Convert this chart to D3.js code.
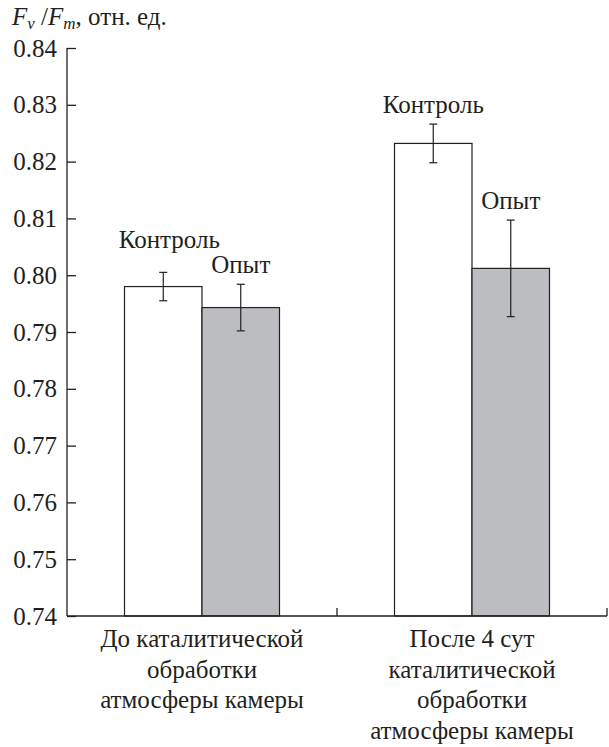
<!DOCTYPE html>
<html>
<head>
<meta charset="utf-8">
<script src="https://cdn.jsdelivr.net/npm/d3@7"></script>
</head>
<body style="margin:0">
<svg id="svg" width="609" height="747"></svg>
<script>
// data
var groups = ["До каталитической\nобработки\nатмосферы камеры",
              "После 4 сут\nкаталитической\nобработки\nатмосферы камеры"];
var series = ["Контроль", "Опыт"];
var controlValues = [0.7980, 0.8232];
var controlErrors = [0.0025, 0.0034];
var testValues = [0.7943, 0.8012];
var testErrors = [0.0041, 0.0085];
var yTicks = [0.74, 0.75, 0.76, 0.77, 0.78, 0.79, 0.80, 0.81, 0.82, 0.83, 0.84];

var svg = d3.select("svg"),
    margin = {top: 48, left: 67, right: 2, bottom: 131},
    width = 609,
    height = 747;

var ink = "#231f20";
var fills = ["#ffffff", "#bcbdc0"];
var fontSize = 25;

// serif text helper
function serifText(sel) {
    return sel.attr("font-family", "Liberation Serif")
            .style("font-family", "'Liberation Serif'")
            .attr("font-size", fontSize)
            .attr("fill", ink);
}

var y = d3.scaleLinear()
        .domain([0.74, 0.84])
        .range([height - margin.bottom, margin.top]);

var x0 = d3.scaleBand()
        .domain(d3.range(groups.length))
        .range([margin.left, width - margin.right])
        .padding(0);

var x1 = d3.scaleBand()
        .domain(d3.range(series.length))
        .range([0, x0.bandwidth()])
        .paddingInner(0)
        .paddingOuter(0.742);

var rows = [];
groups.forEach(function (g, i) {
    rows.push({g: i, s: 0, v: controlValues[i], e: controlErrors[i]});
    rows.push({g: i, s: 1, v: testValues[i], e: testErrors[i]});
});

// bars
svg.append("g").selectAll("rect")
        .data(rows)
        .enter().append("rect")
        .attr("x", function (d) { return x0(d.g) + x1(d.s); })
        .attr("y", function (d) { return y(d.v); })
        .attr("width", x1.bandwidth())
        .attr("height", function (d) { return y(0.74) - y(d.v); })
        .attr("fill", function (d) { return fills[d.s]; })
        .attr("stroke", ink)
        .attr("stroke-width", 1.2);

// error bars
var eb = svg.append("g").attr("stroke", ink).attr("stroke-width", 1.2);
rows.forEach(function (d) {
    var cx = x0(d.g) + x1(d.s) + x1.bandwidth() / 2;
    eb.append("line").attr("x1", cx).attr("x2", cx)
            .attr("y1", y(d.v + d.e)).attr("y2", y(d.v - d.e));
    eb.append("line").attr("x1", cx - 4).attr("x2", cx + 4)
            .attr("y1", y(d.v + d.e)).attr("y2", y(d.v + d.e));
    eb.append("line").attr("x1", cx - 4).attr("x2", cx + 4)
            .attr("y1", y(d.v - d.e)).attr("y2", y(d.v - d.e));
});

// series labels above error bars
rows.forEach(function (d) {
    var cx = x0(d.g) + x1(d.s) + x1.bandwidth() / 2;
    var ty = y(d.v + d.e) - 11;
    // first control label is lifted and nudged so it clears the "Опыт" label
    if (d.g === 0 && d.s === 0) { ty -= 13; cx += 6; }
    serifText(svg.append("text"))
            .attr("x", cx)
            .attr("y", ty)
            .attr("text-anchor", "middle")
            .text(series[d.s]);
});

// y axis
var yAxis = svg.append("g")
        .attr("transform", "translate(" + margin.left + ",0)")
        .call(d3.axisRight(y).tickValues(yTicks).tickSize(9).tickFormat(d3.format(".2f")))
        .attr("font-family", "Liberation Serif")
        .attr("font-size", fontSize);
yAxis.select(".domain").attr("d", "M0," + y(0.84) + "V" + y(0.74)).attr("stroke", ink).attr("stroke-width", 1.3);
yAxis.selectAll(".tick line").attr("stroke", ink).attr("stroke-width", 1.3);
serifText(yAxis.selectAll(".tick text"))
        .attr("x", -10)
        .attr("dy", "0.32em")
        .attr("text-anchor", "end");

// x axis
var xAxis = svg.append("g")
        .attr("transform", "translate(0," + y(0.74) + ")");
xAxis.append("line")
        .attr("x1", margin.left).attr("x2", width - margin.right)
        .attr("stroke", ink).attr("stroke-width", 1.3);
groups.forEach(function (g, i) {
    var bx = x0(i) + x0.bandwidth();
    xAxis.append("line")
            .attr("x1", bx).attr("x2", bx).attr("y1", 0).attr("y2", -8)
            .attr("stroke", ink).attr("stroke-width", 1.3);
    var t = serifText(xAxis.append("text"))
            .attr("text-anchor", "middle");
    g.split("\n").forEach(function (line, k) {
        t.append("tspan")
                .attr("x", x0(i) + x0.bandwidth() / 2)
                .attr("y", 31 + k * 30.5)
                .text(line);
    });
});

// axis title
var title = serifText(svg.append("text"))
        .attr("x", 12)
        .attr("y", 25);
title.append("tspan").attr("font-style", "italic").text("F");
title.append("tspan").attr("font-style", "italic").attr("font-size", 17).attr("dy", 4).text("v");
title.append("tspan").attr("dy", -4).text(" /");
title.append("tspan").attr("font-style", "italic").text("F");
title.append("tspan").attr("font-style", "italic").attr("font-size", 17).attr("dy", 4).text("m");
title.append("tspan").attr("dy", -4).text(", отн. ед.");
</script>
</body>
</html>
